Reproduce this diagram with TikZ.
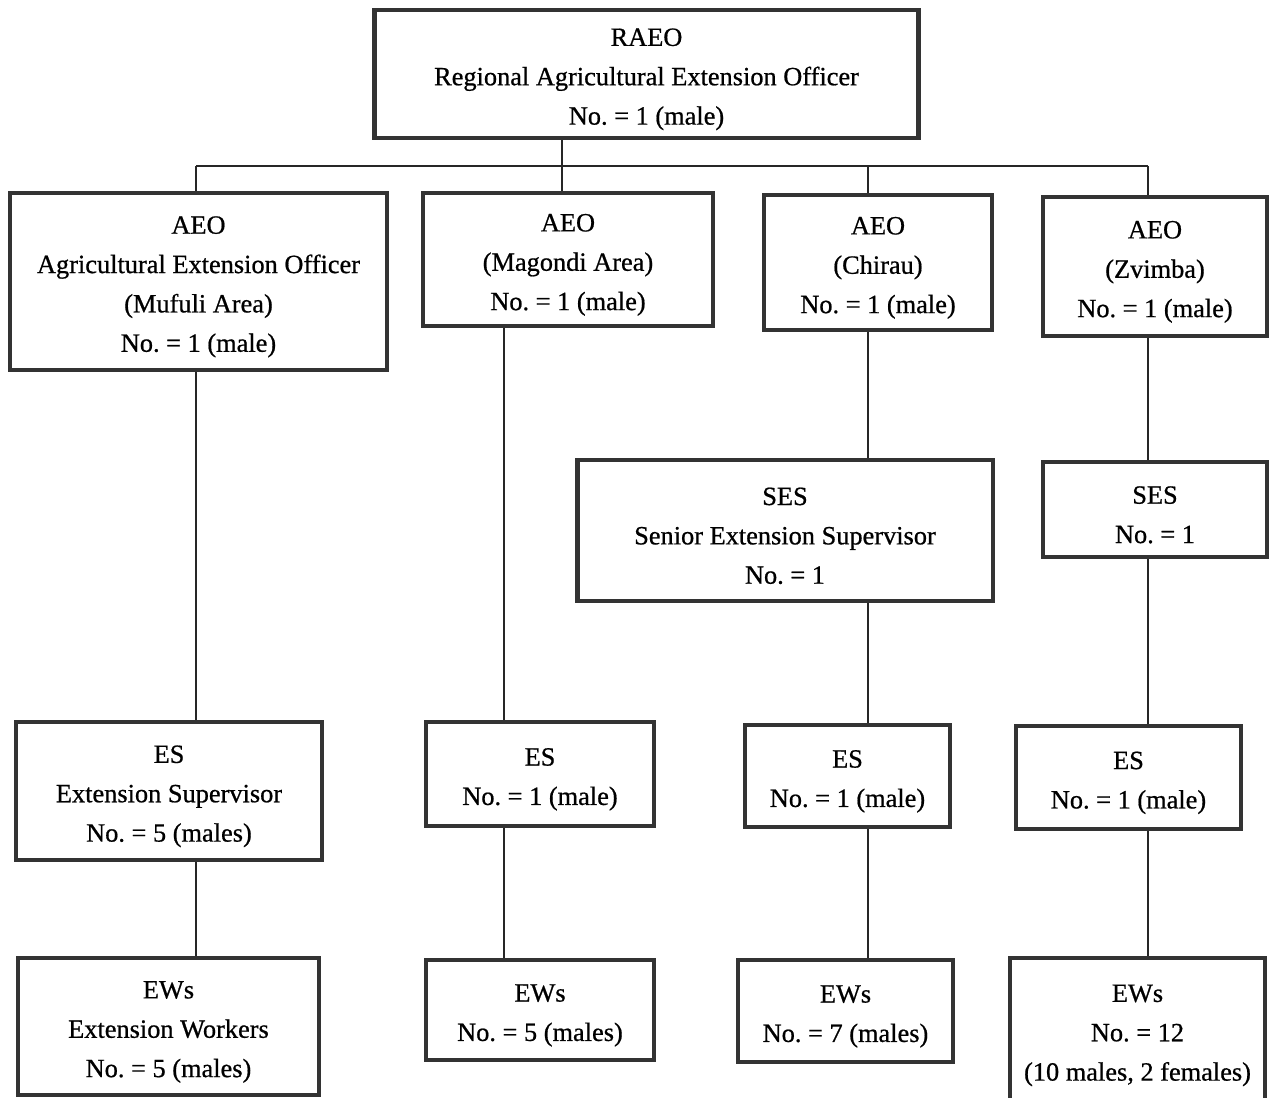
\documentclass[tikz,border=0pt]{standalone}
\usepackage{fontspec}
\setmainfont{Liberation Serif}
\newfontfamily\postfont{Liberation Serif}[FakeBold=0.7]
\newcommand\lift{\rule{0pt}{16pt}}
\frenchspacing

\begin{document}
\begin{tikzpicture}[x=0.02cm, y=-0.02cm,
	post/.style={draw=black!80, line width=2.8pt, fill=white, align=center, inner sep=0pt,
		font=\postfont\fontsize{15}{22.4}\selectfont},
	link/.style={draw=black!85, line width=1.3pt}]
	\useasboundingbox (0,0) rectangle (1271,1098);

	% top level
	\node[post, minimum width=10.9cm, minimum height=2.56cm](raeo) at (646.5,74) {\lift RAEO\\Regional Agricultural Extension Officer\\No. = 1 (male)};

	% area officers
	\node[post, minimum width=7.54cm, minimum height=3.54cm](aeoA) at (198.5,281.5) {\lift AEO\\Agricultural Extension Officer\\(Mufuli Area)\\No. = 1 (male)};
	\node[post, minimum width=5.8cm, minimum height=2.66cm](aeoB) at (568,259.5) {\lift AEO\\(Magondi Area)\\No. = 1 (male)};
	\node[post, minimum width=4.56cm, minimum height=2.7cm](aeoC) at (878,262.5) {\lift AEO\\(Chirau)\\No. = 1 (male)};
	\node[post, minimum width=4.48cm, minimum height=2.78cm](aeoD) at (1155,266.5) {\lift AEO\\(Zvimba)\\No. = 1 (male)};

	% senior supervisors
	\node[post, minimum width=8.32cm, minimum height=2.82cm](sesC) at (785,530.5) {\lift SES\\Senior Extension Supervisor\\No. = 1};
	\node[post, minimum width=4.48cm, minimum height=1.9cm](sesD) at (1155,509.5) {\lift SES\\No. = 1};

	% supervisors
	\node[post, minimum width=6.12cm, minimum height=2.76cm](esA) at (169,791) {\lift ES\\Extension Supervisor\\No. = 5 (males)};
	\node[post, minimum width=4.56cm, minimum height=2.08cm](esB) at (540,774) {\lift ES\\No. = 1 (male)};
	\node[post, minimum width=4.1cm, minimum height=2.04cm](esC) at (847.5,776) {\lift ES\\No. = 1 (male)};
	\node[post, minimum width=4.5cm, minimum height=2.06cm](esD) at (1128.5,777.5) {\lift ES\\No. = 1 (male)};

	% extension workers
	\node[post, minimum width=6.02cm, minimum height=2.74cm](ewA) at (168.5,1026.5) {\lift EWs\\Extension Workers\\No. = 5 (males)};
	\node[post, minimum width=4.56cm, minimum height=2.0cm](ewB) at (540,1010) {\lift EWs\\No. = 5 (males)};
	\node[post, minimum width=4.3cm, minimum height=2.04cm](ewC) at (845.5,1011) {\lift EWs\\No. = 7 (males)};
	\node[post, minimum width=5.1cm, minimum height=2.88cm](ewD) at (1137.5,1030) {\lift EWs\\No. = 12\\(10 males, 2 females)};

	% bus under RAEO
	\coordinate(busA) at (196,166);
	\coordinate(busB) at (562,166);
	\coordinate(busC) at (868,166);
	\coordinate(busD) at (1148,166);
	\coordinate(colB) at (504,0);

	\draw[link](raeo.south -| busB) -- (busB);
	\draw[link](busA) -- (busD);
	\draw[link](busA) -- (aeoA.north -| busA);
	\draw[link](busB) -- (aeoB.north -| busB);
	\draw[link](busC) -- (aeoC.north -| busC);
	\draw[link](busD) -- (aeoD.north -| busD);

	% Mufuli
	\draw[link](aeoA.south -| busA) -- (esA.north -| busA);
	\draw[link](esA.south -| busA) -- (ewA.north -| busA);
	% Magondi
	\draw[link](aeoB.south -| colB) -- (esB.north -| colB);
	\draw[link](esB.south -| colB) -- (ewB.north -| colB);
	% Chirau
	\draw[link](aeoC.south -| busC) -- (sesC.north -| busC);
	\draw[link](sesC.south -| busC) -- (esC.north -| busC);
	\draw[link](esC.south -| busC) -- (ewC.north -| busC);
	% Zvimba
	\draw[link](aeoD.south -| busD) -- (sesD.north -| busD);
	\draw[link](sesD.south -| busD) -- (esD.north -| busD);
	\draw[link](esD.south -| busD) -- (ewD.north -| busD);
\end{tikzpicture}
\end{document}
